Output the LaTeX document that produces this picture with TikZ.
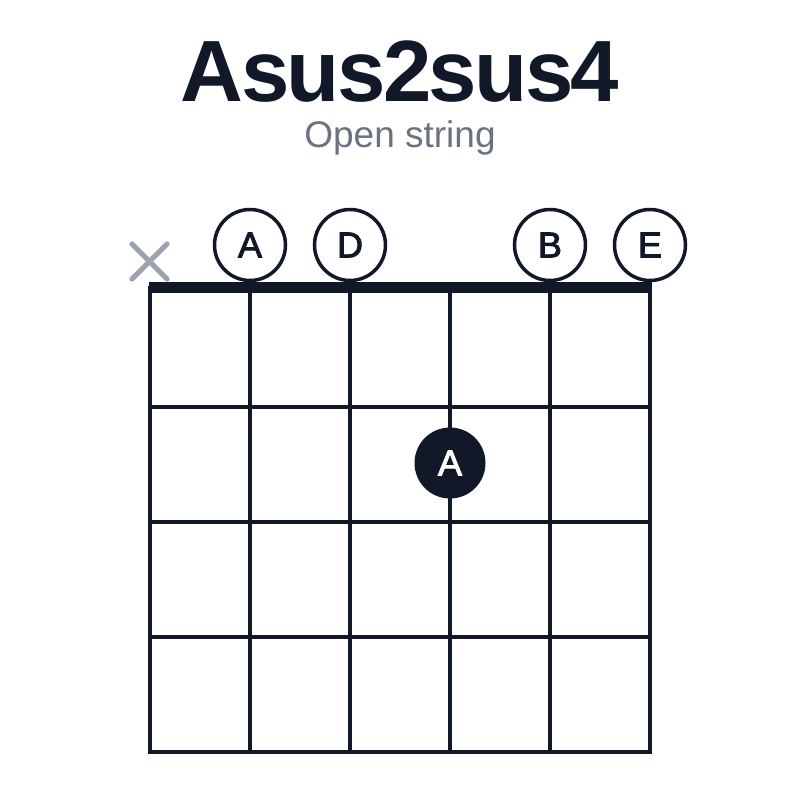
\documentclass[tikz,border=0pt]{standalone}
\usepackage{fontspec}
\setmainfont{Liberation Sans}
\newfontfamily\titlefont{Liberation Sans}[LetterSpace=-3]
\newfontfamily\notefont{Liberation Sans}[FakeBold=2.5]
\usepackage{xcolor}
\usepackage{tikz}
\usetikzlibrary{positioning}

\definecolor{ink}{HTML}{111827}
\definecolor{muted}{HTML}{6B7280}
\definecolor{mutecol}{HTML}{9CA3AF}

\begin{document}
\begin{tikzpicture}[x=0.5pt, y=-0.5pt,
        title/.style={anchor=base, inner sep=0pt, text=ink, font=\titlefont\bfseries\fontsize{43.5}{43.5}\selectfont},
        subtitle/.style={anchor=base, inner sep=0pt, text=muted, font=\fontsize{18.5}{18.5}\selectfont},
        fret/.style={draw=ink, line width=1.65pt},
        nut/.style={draw=ink, line width=5.5pt},
        openstr/.style={circle, draw=ink, line width=1.75pt, fill=white, minimum size=35.5pt, inner sep=0pt, text=ink, font=\notefont\fontsize{18}{18}\selectfont},
        finger/.style={circle, fill=ink, minimum size=35.5pt, inner sep=0pt, text=white, font=\notefont\fontsize{18}{18}\selectfont},
        mute/.style={draw=mutecol, line width=2.6pt, line cap=round}
    ]
    \useasboundingbox[fill=white] (0,0) rectangle (800,800);

    % Titel
    \node[title] (name) at (400,101) {Asus2sus4};
    \node[subtitle] (pos) at (400,147) {Open string};

    % Griffbrett
    \draw[fret] (150,287.5) rectangle (650,752);
    \draw[fret] (250,287.5) -- (250,752);
    \draw[fret] (350,287.5) -- (350,752);
    \draw[fret] (450,287.5) -- (450,752);
    \draw[fret] (550,287.5) -- (550,752);
    \draw[fret] (150,407) -- (650,407);
    \draw[fret] (150,522) -- (650,522);
    \draw[fret] (150,637) -- (650,637);
    \draw[nut] (148.5,287.5) -- (651.5,287.5);

    % gedaempfte Saite
    \draw[mute] (132,244) -- (167,279);
    \draw[mute] (167,244) -- (132,279);

    % leere Saiten
    \node[openstr] (s5) at (250,245) {A};
    \node[openstr] (s4) at (350,245) {D};
    \node[openstr] (s2) at (550,245) {B};
    \node[openstr] (s1) at (650,245) {E};

    % gegriffener Ton
    \node[finger] (f3) at (450,463) {A};

\end{tikzpicture}
\end{document}
